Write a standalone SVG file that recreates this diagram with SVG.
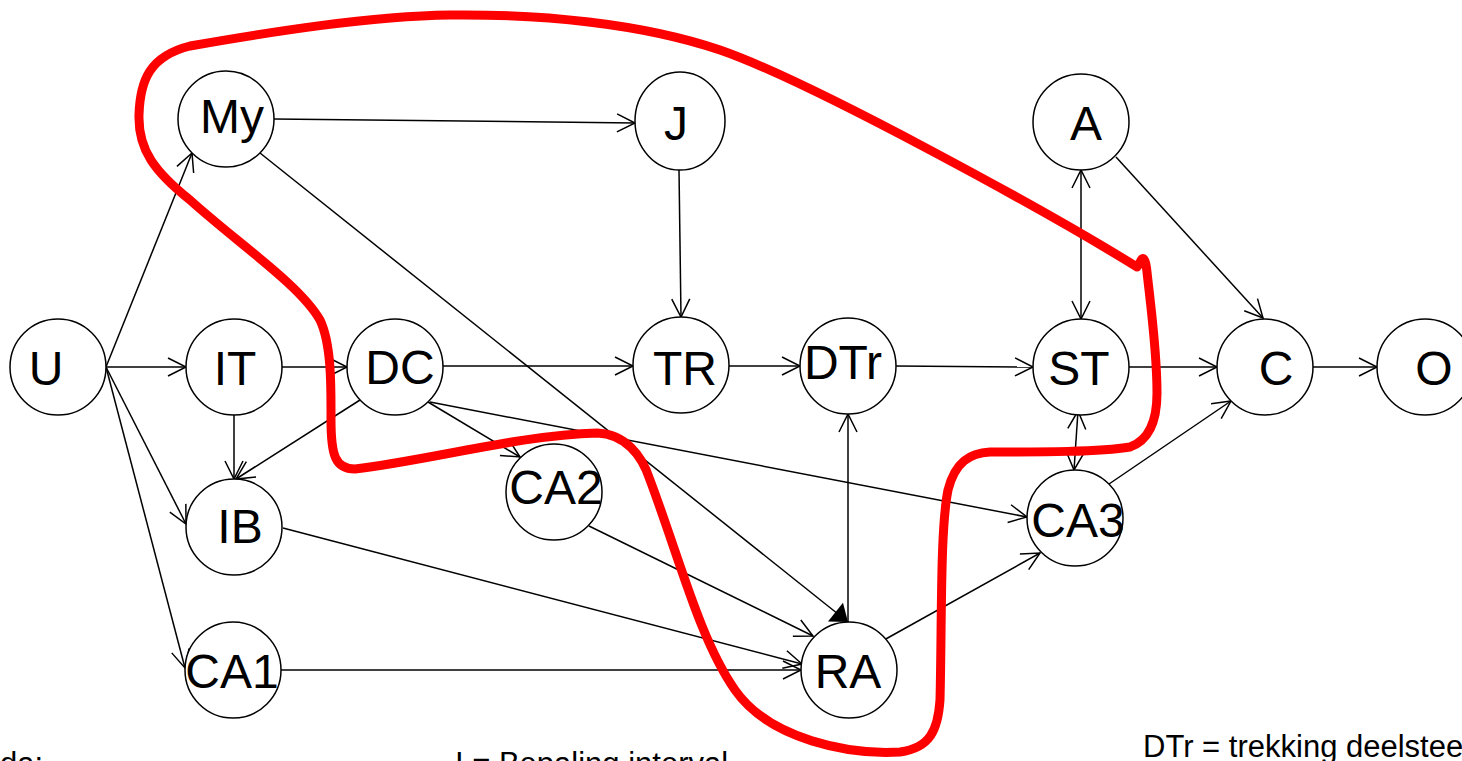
<svg xmlns="http://www.w3.org/2000/svg" width="1462" height="761" viewBox="0 0 1462 761">
<defs>
<marker id="open" markerUnits="userSpaceOnUse" markerWidth="24" markerHeight="24" refX="18" refY="9" orient="auto-start-reverse" overflow="visible">
<path d="M0,0 L18,9 L0,18" fill="none" stroke="#000" stroke-width="1.5"/>
</marker>
<marker id="filled" markerUnits="userSpaceOnUse" markerWidth="24" markerHeight="26" refX="16" refY="12" orient="auto" overflow="visible">
<path d="M0,0 L16,12 L0,24 Z" fill="#000"/>
</marker>
<style>
.n{fill:#fff;stroke:#000;stroke-width:1.5}
.t{font-family:"Liberation Sans",Arial,sans-serif;font-size:48px;fill:#000;text-anchor:middle}
.e{stroke:#000;stroke-width:1.5;fill:none;marker-end:url(#open)}
.b{font-family:"Liberation Sans",Arial,sans-serif;font-size:31px;fill:#000}
</style>
</defs>
<rect width="1462" height="761" fill="#fff"/>
<g id="connectors">
<line class="e" x1="106" y1="367" x2="192" y2="153"/>
<line class="e" x1="106" y1="367" x2="186" y2="367"/>
<line class="e" x1="106" y1="367" x2="186" y2="524"/>
<line class="e" x1="106" y1="367" x2="185" y2="668"/>
<line class="e" x1="282" y1="367" x2="347" y2="367"/>
<line class="e" x1="234" y1="415" x2="234" y2="479"/>
<line class="e" x1="360" y1="400" x2="236" y2="479"/>
<line class="e" x1="443" y1="366" x2="633" y2="366"/>
<line class="e" x1="428" y1="402" x2="520" y2="457"/>
<line class="e" x1="430" y1="402" x2="1027" y2="517"/>
<line class="e" x1="274" y1="119" x2="635" y2="123"/>
<line x1="260" y1="153" x2="848" y2="622" stroke="#000" stroke-width="1.5" marker-end="url(#filled)"/>
<line class="e" x1="679" y1="170" x2="681" y2="317"/>
<line class="e" x1="729" y1="366" x2="800" y2="366"/>
<line class="e" x1="896" y1="366" x2="1033" y2="367"/>
<line class="e" x1="848" y1="622" x2="848" y2="414"/>
<line class="e" x1="1129" y1="367" x2="1217" y2="367"/>
<line class="e" x1="1313" y1="367" x2="1377" y2="367"/>
<line class="e" x1="1081" y1="319" x2="1081" y2="170" marker-start="url(#open)"/>
<line class="e" x1="1116" y1="157" x2="1263" y2="318"/>
<line class="e" x1="1074" y1="470" x2="1078" y2="411" marker-start="url(#open)"/>
<line class="e" x1="1109" y1="484" x2="1231" y2="401"/>
<line class="e" x1="283" y1="528" x2="802" y2="664"/>
<line class="e" x1="281" y1="670" x2="801" y2="670"/>
<line class="e" x1="589" y1="526" x2="813" y2="636"/>
<line class="e" x1="884" y1="640" x2="1040" y2="553"/>
</g>
<g id="node-U"><circle class="n" cx="58" cy="367" r="48"/><text class="t" x="46" y="385">U</text></g>
<g id="node-IT"><circle class="n" cx="234" cy="367" r="48"/><text class="t" x="235" y="385">IT</text></g>
<g id="node-DC"><circle class="n" cx="395" cy="367" r="48"/><text class="t" x="400" y="384">DC</text></g>
<g id="node-TR"><circle class="n" cx="681" cy="365" r="48"/><text class="t" x="685" y="385">TR</text></g>
<g id="node-DTr"><circle class="n" cx="848" cy="366" r="48"/><text class="t" x="843" y="379">DTr</text></g>
<g id="node-ST"><circle class="n" cx="1081" cy="367" r="48"/><text class="t" x="1079" y="385">ST</text></g>
<g id="node-C"><circle class="n" cx="1265" cy="367" r="48"/><text class="t" x="1276" y="385">C</text></g>
<g id="node-O"><circle class="n" cx="1425" cy="367" r="48"/><text class="t" x="1434" y="385">O</text></g>
<g id="node-My"><circle class="n" cx="226" cy="119" r="48"/><text class="t" x="232" y="133">My</text></g>
<g id="node-J"><ellipse class="n" cx="680" cy="121" rx="45" ry="49"/><text class="t" x="676" y="140">J</text></g>
<g id="node-A"><circle class="n" cx="1081" cy="122" r="48"/><text class="t" x="1086" y="140">A</text></g>
<g id="node-IB"><circle class="n" cx="234" cy="527" r="48"/><text class="t" x="240" y="543">IB</text></g>
<g id="node-CA2"><circle class="n" cx="554" cy="492" r="48"/><text class="t" x="556" y="504">CA2</text></g>
<g id="node-CA3"><circle class="n" cx="1075" cy="518" r="48"/><text class="t" x="1078" y="537">CA3</text></g>
<g id="node-CA1"><circle class="n" cx="233" cy="670" r="48"/><text class="t" x="232" y="688">CA1</text></g>
<g id="node-RA"><circle class="n" cx="849" cy="670" r="48"/><text class="t" x="848" y="688">RA</text></g>
<g id="legend">
<text class="b" x="0" y="774">da:</text>
<text class="b" x="455" y="774">I = Bepaling interval</text>
<text class="b" x="1143" y="757">DTr = trekking deelstee</text>
</g>
<path id="red-outline" d="M1137,267 C1050,213 810,81 720,50 C640,23 540,14 450,15 C370,16 270,32 190,46 C150,56 140,80 139,115 C138,150 155,172 190,200 C240,245 300,285 320,320 C332,345 331,390 331,420 C331,455 335,469 355,469 C430,460 520,435 597,433 C625,434 642,455 650,480 C680,560 700,640 735,690 C770,740 850,755 900,752 C930,748 938,730 940,700 C942,620 940,530 948,490 C955,462 970,453 990,452 C1040,452 1100,452 1130,447 C1150,440 1157,420 1157,393 C1157,350 1150,300 1147,272 C1146,262 1144,257 1142,259 C1140,261 1140,264 1137,267" fill="none" stroke="#f00" stroke-width="9" stroke-linecap="round" stroke-linejoin="round"/>
</svg>
